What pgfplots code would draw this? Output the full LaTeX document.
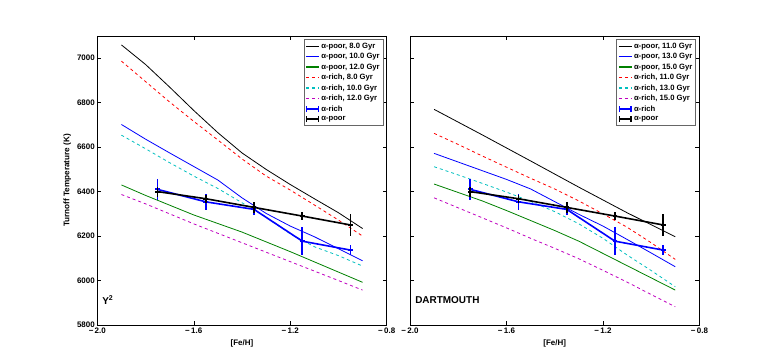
\documentclass[border=0pt]{standalone}
\usepackage{fontspec}
\setmainfont{Liberation Sans}
\usepackage{pgfplots}
\usepackage{pgfplotstable}
\pgfplotsset{compat=1.18}

\definecolor{mplgreen}{rgb}{0,0.5,0}
\definecolor{mplcyan}{rgb}{0,0.75,0.75}
\definecolor{mplmag}{rgb}{0.75,0,0.75}

% observed turnoff temperatures (same in both panels)
\pgfplotstableread{
x y ex ey
-1.75 6410 0.01 47
-1.55 6354 0.01 36
-1.35 6320 0.01 24
-1.15 6177 0.01 62
-0.95 6137 0.01 22
}\richdata
\pgfplotstableread{
x y ex ey
-1.75 6400 0.01 22
-1.55 6368 0.01 17
-1.35 6329 0.01 26
-1.15 6290 0.01 19
-0.95 6250 0.01 51
}\poordata

\pgfplotsset{
  panel/.style={
    scale only axis, width=289.4bp, height=289bp,
    xmin=-2, xmax=-0.8, ymin=5800, ymax=7100,
    xtick={-2,-1.6,-1.2,-0.8},
    xticklabels={−\,2.0,−\,1.6,−\,1.2,−\,0.8},
    ytick={5800,6000,6200,6400,6600,6800,7000},
    tick align=inside, tick pos=both,
    major tick length=4bp,
    tick style={black, line width=0.5bp},
    axis line style={line width=0.8bp},
    tick label style={font=\bfseries\fontsize{8}{9}\selectfont},
    yticklabel style={xshift=1bp},
    xticklabel style={yshift=1bp},
    xlabel={[Fe/H]},
    xlabel style={font=\bfseries\fontsize{8}{9}\selectfont, at={(axis description cs:0.5,-0.064)}, anchor=center},
    legend cell align=left,
    legend style={at={(rel axis cs:0.988,0.988)}, anchor=north east,
      font=\bfseries\fontsize{7.7}{8.5}\selectfont, draw=black!60, line width=0.5bp,
      inner sep=1.5bp, nodes={inner sep=1.75bp}},
    legend image code/.code={\draw[##1,line width=1.4bp,draw=.] (0bp,0bp) -- (12.7bp,0bp);},
  },
  model/.style={line width=0.8bp},
  dmodel/.style={line width=0.8bp, dash pattern=on 3bp off 3bp},
  obs/.style={line width=1.6bp, mark=none, forget plot,
    error bars/.cd, y dir=both, y explicit, x dir=both, x explicit,
    error bar style={line width=1.8bp}, error mark=none},
  legrich/.style={legend image code/.code={
    \draw[draw=blue,line width=1.5bp] (0bp,0bp) -- (12.7bp,0bp);
    \draw[draw=blue,line width=1.2bp] (0.6bp,-3bp) -- (0.6bp,3bp);
    \draw[draw=blue,line width=1.2bp] (12.1bp,-3bp) -- (12.1bp,3bp);}},
  legpoor/.style={legend image code/.code={
    \draw[draw=black,line width=1.5bp] (0bp,0bp) -- (12.7bp,0bp);
    \draw[draw=black,line width=1.2bp] (0.6bp,-3bp) -- (0.6bp,3bp);
    \draw[draw=black,line width=1.2bp] (12.1bp,-3bp) -- (12.1bp,3bp);}},
}

\begin{document}
\begin{tikzpicture}
\path[use as bounding box] (0bp,0bp) rectangle (778bp,363bp);

% ---------------- left panel: Y^2 ----------------
\begin{axis}[panel, at={(97.3bp,38bp)}, anchor=south west,
  yticklabels={5800,6000,6200,6400,6600,6800,7000},
  ylabel={Turnoff Temperature (K)},
  ylabel style={font=\bfseries\fontsize{8.2}{9}\selectfont, at={(axis description cs:-0.104,0.5)}, anchor=center}]
\addplot[model, black] coordinates {(-1.9,7060) (-1.8,6972) (-1.7,6870) (-1.6,6765) (-1.5,6665) (-1.4,6574) (-1.3,6500) (-1.2,6432) (-1.1,6368) (-1.0,6305) (-0.9,6234)};
\addlegendentry{α-poor, 8.0 Gyr}
\addplot[model, blue] coordinates {(-1.9,6702) (-1.8,6636) (-1.7,6574) (-1.6,6513) (-1.5,6452) (-1.4,6372) (-1.3,6302) (-1.2,6245) (-1.1,6197) (-1.0,6143) (-0.9,6089)};
\addlegendentry{α-poor, 10.0 Gyr}
\addplot[model, mplgreen] coordinates {(-1.9,6430) (-1.8,6383) (-1.6,6295) (-1.4,6218) (-1.2,6130) (-1.0,6038) (-0.9,5992)};
\addlegendentry{α-poor, 12.0 Gyr}
\addplot[dmodel, red] coordinates {(-1.9,6987) (-1.8,6895) (-1.7,6803) (-1.6,6716) (-1.5,6632) (-1.4,6547) (-1.3,6470) (-1.2,6407) (-1.1,6340) (-1.0,6272) (-0.9,6200)};
\addlegendentry{α-rich, 8.0 Gyr}
\addplot[dmodel, mplcyan] coordinates {(-1.9,6654) (-1.8,6593) (-1.7,6530) (-1.6,6470) (-1.5,6414) (-1.4,6350) (-1.3,6285) (-1.2,6210) (-1.1,6152) (-1.0,6112) (-0.9,6065)};
\addlegendentry{α-rich, 10.0 Gyr}
\addplot[dmodel, mplmag] coordinates {(-1.9,6387) (-1.8,6345) (-1.6,6255) (-1.4,6170) (-1.2,6085) (-1.0,6000) (-0.9,5957)};
\addlegendentry{α-rich, 12.0 Gyr}
\addplot[blue, obs] table[x=x, y=y, x error=ex, y error=ey] {\richdata};
\addplot[black, obs] table[x=x, y=y, x error=ex, y error=ey] {\poordata};
\addlegendimage{legrich}
\addlegendentry{α-rich}
\addlegendimage{legpoor}
\addlegendentry{α-poor}
\node[anchor=west, font=\bfseries\fontsize{10}{11}\selectfont, inner sep=0pt] at (axis cs:-1.98,5912) {Y\textsuperscript{2}};
\end{axis}

% ---------------- right panel: DARTMOUTH ----------------
\begin{axis}[panel, at={(410bp,38bp)}, anchor=south west, yticklabels={,,,,,,}]
\addplot[model, black] coordinates {(-1.9,6770) (-1.7,6655) (-1.5,6538) (-1.3,6420) (-1.1,6305) (-0.9,6197)};
\addlegendentry{α-poor, 11.0 Gyr}
\addplot[model, blue] coordinates {(-1.9,6572) (-1.8,6533) (-1.7,6494) (-1.6,6455) (-1.5,6412) (-1.4,6355) (-1.3,6298) (-1.2,6245) (-1.1,6185) (-1.0,6124) (-0.9,6062)};
\addlegendentry{α-poor, 13.0 Gyr}
\addplot[model, mplgreen] coordinates {(-1.9,6434) (-1.8,6396) (-1.7,6358) (-1.6,6315) (-1.5,6270) (-1.4,6225) (-1.3,6177) (-1.2,6122) (-1.1,6067) (-1.0,6012) (-0.9,5957)};
\addlegendentry{α-poor, 15.0 Gyr}
\addplot[dmodel, red] coordinates {(-1.9,6662) (-1.8,6612) (-1.7,6560) (-1.6,6510) (-1.5,6460) (-1.4,6412) (-1.3,6358) (-1.2,6300) (-1.1,6240) (-1.0,6170) (-0.9,6095)};
\addlegendentry{α-rich, 11.0 Gyr}
\addplot[dmodel, mplcyan] coordinates {(-1.9,6512) (-1.8,6475) (-1.7,6437) (-1.6,6398) (-1.5,6356) (-1.4,6310) (-1.3,6255) (-1.2,6190) (-1.1,6115) (-1.0,6045) (-0.9,5972)};
\addlegendentry{α-rich, 13.0 Gyr}
\addplot[dmodel, mplmag] coordinates {(-1.9,6372) (-1.8,6327) (-1.7,6282) (-1.6,6237) (-1.5,6190) (-1.4,6145) (-1.3,6098) (-1.2,6046) (-1.1,5993) (-1.0,5937) (-0.9,5882)};
\addlegendentry{α-rich, 15.0 Gyr}
\addplot[blue, obs] table[x=x, y=y, x error=ex, y error=ey] {\richdata};
\addplot[black, obs] table[x=x, y=y, x error=ex, y error=ey] {\poordata};
\addlegendimage{legrich}
\addlegendentry{α-rich}
\addlegendimage{legpoor}
\addlegendentry{α-poor}
\node[anchor=west, font=\bfseries\fontsize{10}{11}\selectfont, inner sep=0pt] at (axis cs:-1.979,5912) {DARTMOUTH};
\end{axis}
\end{tikzpicture}
\end{document}
